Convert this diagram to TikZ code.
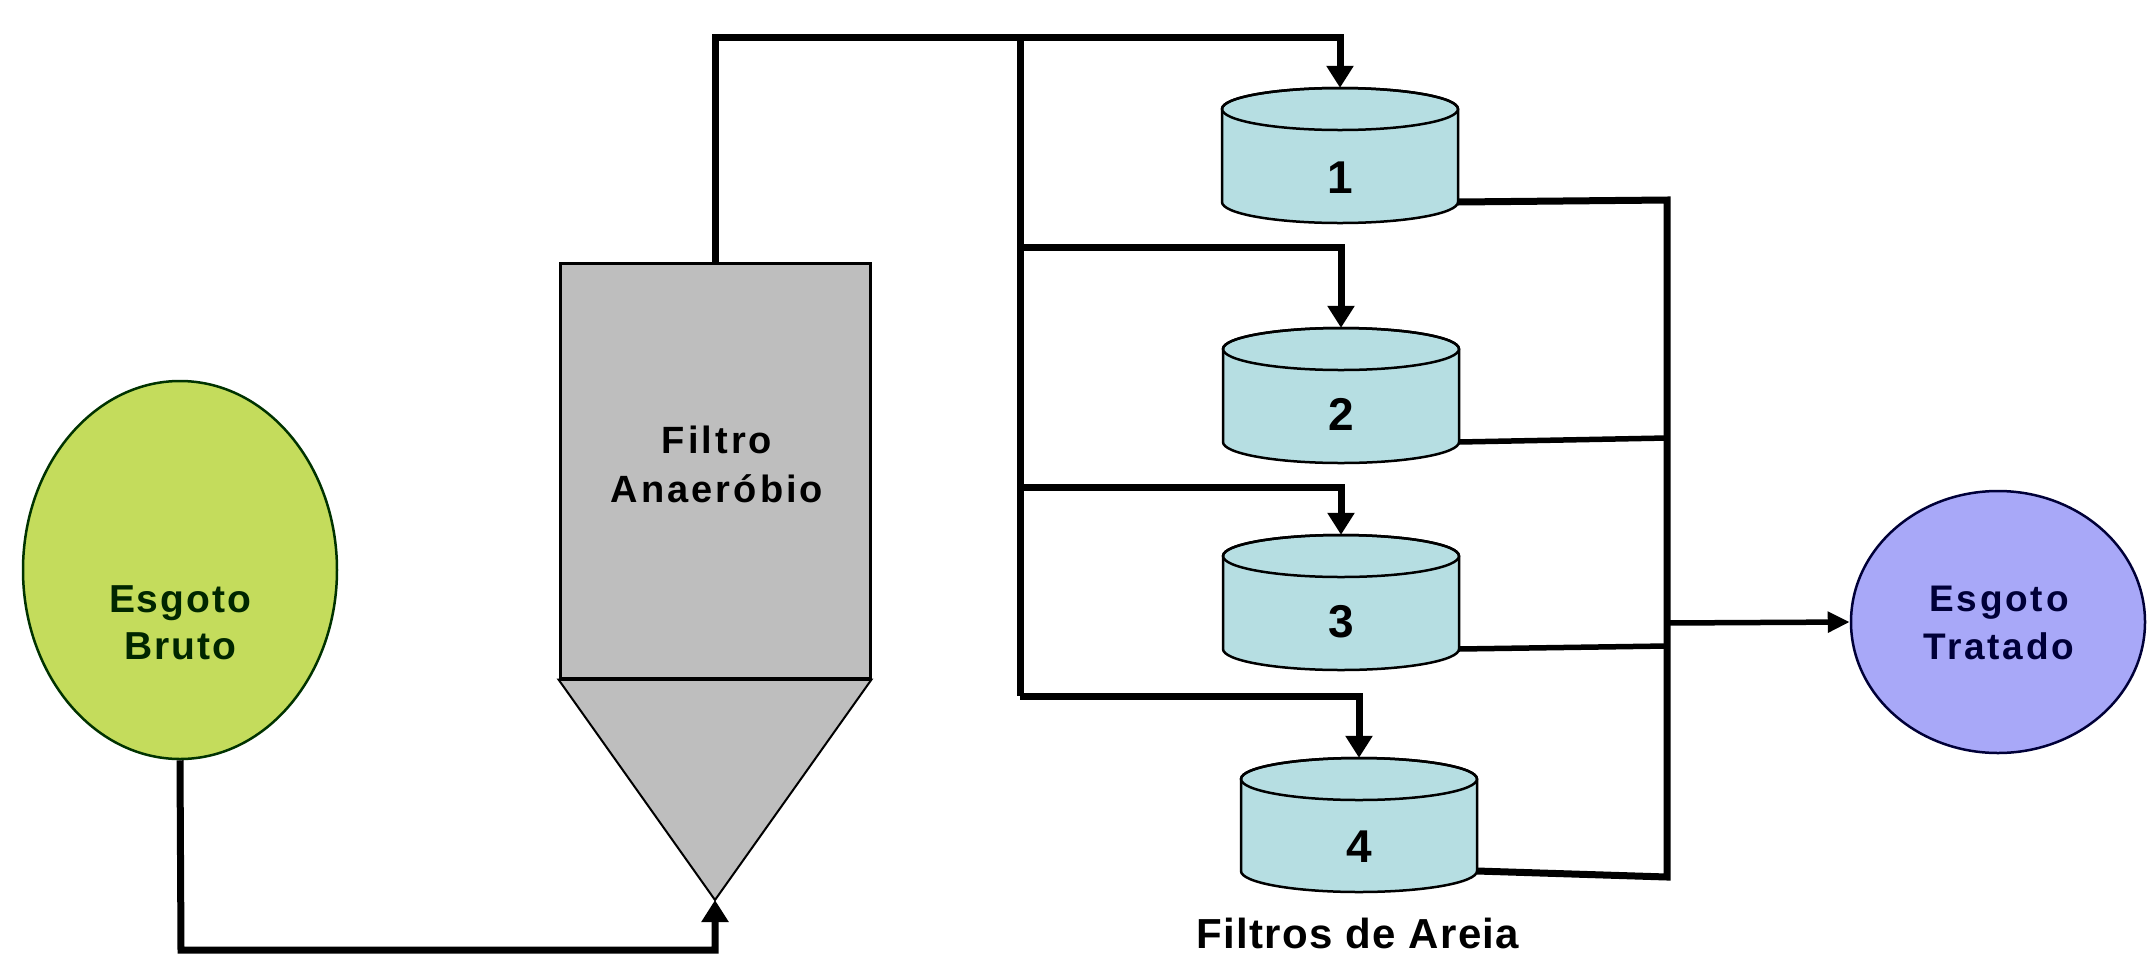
\documentclass[tikz,border=0pt]{standalone}
\usepackage{fontspec}
\setmainfont{Liberation Sans}
\usetikzlibrary{shapes.geometric,arrows.meta}
\definecolor{brutocol}{HTML}{C4DC5C}
\definecolor{tratcol}{HTML}{A8A8F8}
\definecolor{filtcol}{HTML}{BEBEBE}
\definecolor{cylcol}{HTML}{B6DEE2}
\definecolor{navy}{HTML}{000038}
\newcommand\mycyl[6]{% name, cx, top, bottom, label, label baseline
  \fill[cylcol,draw=black,line width=2.5pt] (#2-118,#3+21) -- (#2-118,#4-21)
    arc[start angle=180,end angle=0,x radius=118,y radius=21] -- (#2+118,#3+21)
    arc[start angle=0,end angle=-180,x radius=118,y radius=21] -- cycle;
  \draw[line width=2.5pt] (#2,#3+21) ellipse[x radius=118,y radius=21];
  \node[body,minimum height={(#4-#3)*1pt}] (#1) at (#2,{(#3+#4)/2}) {};
  \node[numlbl,anchor=base] (#1l) at (#2,#6) {#5};
  \coordinate (#1out) at (#2+118,#4-21);
}
\tikzset{
  pipe/.style={line width=7pt},
  thinpipe/.style={line width=5.5pt},
  arr/.style={-{Triangle[length=22pt,width=26pt]}},
  body/.style={draw=none,minimum width=236pt,inner sep=0pt},
  numlbl/.style={font=\fontsize{46}{50}\selectfont\bfseries,inner sep=0pt},
}
\begin{document}
\begin{tikzpicture}[x=1pt,y=-1pt]
\useasboundingbox (0,0) rectangle (2148,954);
\fill[white] (0,0) rectangle (2148,954);
% Esgoto Bruto
\node[ellipse,draw=black!80!green,line width=2.5pt,fill=brutocol,minimum width=314pt,minimum height=378pt,inner sep=0pt] (bruto) at (180,570) {};
\node[font=\fontsize{39}{47}\selectfont\bfseries\addfontfeatures{LetterSpace=5},align=center,text=black!85!green,inner sep=0pt] (brutol) at (180,622.5) {Esgoto\\Bruto};
% Esgoto Tratado
\node[ellipse,draw=navy,line width=2.5pt,fill=tratcol,minimum width=294pt,minimum height=262pt,inner sep=0pt] (trat) at (1998,622) {};
\node[font=\fontsize{37}{48}\selectfont\bfseries\addfontfeatures{LetterSpace=7.5},align=center,text=navy,inner sep=0pt] (tratl) at (1999,622.7) {Esgoto\\Tratado};
% Filtro Anaerobio
\node[draw=black,line width=3pt,fill=filtcol,minimum width=310pt,minimum height=415pt,inner sep=0pt] (filt) at (715,470.5) {};
\coordinate (tip) at (715,900);
\fill[filtcol,draw=black,line width=2pt] (filt.south west) -- (tip) -- (filt.south east) -- cycle;
\draw[line width=3pt] (filt.south west) -- (filt.south east);
\node[font=\fontsize{38}{49}\selectfont\bfseries\addfontfeatures{LetterSpace=8},align=center,inner sep=0pt] (filtl) at (717,464) {Filtro\\Anaeróbio};
% Cylinders
\mycyl{c1}{1340}{88}{223}{1}{193}
\mycyl{c2}{1341}{328}{463}{2}{430}
\mycyl{c3}{1341}{535}{670}{3}{637}
\mycyl{c4}{1359}{758}{892}{4}{862}
\node[font=\fontsize{42}{46}\selectfont\bfseries\addfontfeatures{LetterSpace=3},anchor=base,inner sep=0pt] (areia) at (1358,948) {Filtros de Areia};
% junction coordinates
\coordinate (top) at (715,37);
\coordinate (tr0) at (1020,37);
\coordinate (tr1) at (1020,247);
\coordinate (tr2) at (1020,487);
\coordinate (tr3) at (1020,696);
\coordinate (colT) at (1667,200);
\coordinate (col2) at (1667,438);
\coordinate (col3) at (1667,646);
\coordinate (colM) at (1667,623);
\coordinate (colB) at (1667,877);
\coordinate (b1) at (181,950);
% inlet
\draw[pipe,arr] (bruto.south) -- (b1) -| (tip);
% distribution
\draw[pipe,arr] (filt.north) -- (top) -| (c1.north);
\draw[pipe] (tr0) -- (tr3);
\draw[pipe,arr] (tr1) -| (c2.north);
\draw[pipe,arr] (tr2) -| (c3.north);
\draw[pipe,arr] (tr3) -| (c4.north);
% collection
\draw[pipe] (c1out) -- (colT) -- (colB) -- (c4out);
\draw[thinpipe] (c2out) -- (col2);
\draw[thinpipe] (c3out) -- (col3);
\draw[thinpipe,-{Triangle[length=22pt,width=20pt]}] (colM) -- (trat.west);
\end{tikzpicture}
\end{document}
